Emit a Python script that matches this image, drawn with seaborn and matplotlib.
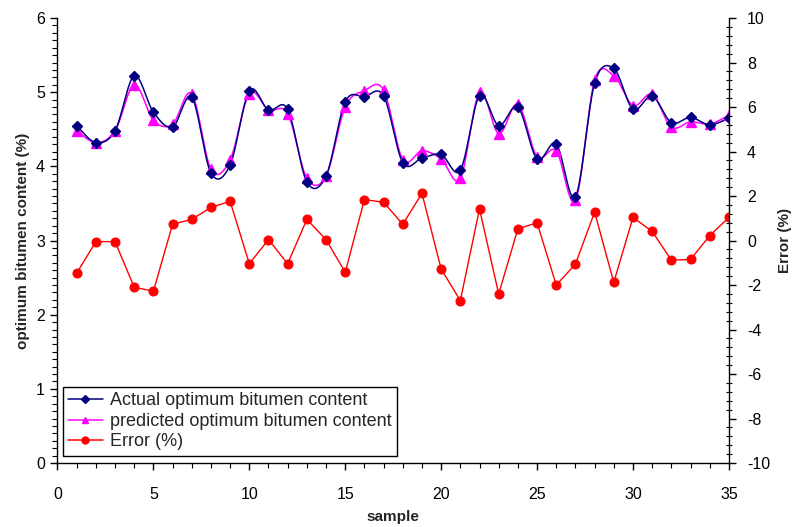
import numpy as np
import pandas as pd
import matplotlib
matplotlib.use("Agg")
import matplotlib.pyplot as plt
from matplotlib.lines import Line2D
from matplotlib.ticker import MultipleLocator
import seaborn as sns

samples = list(range(1, 36))
actual = [4.55, 4.32, 4.48, 5.22, 4.73, 4.53, 4.93, 3.91, 4.02, 5.02, 4.76, 4.77,
          3.79, 3.87, 4.87, 4.94, 4.95, 4.05, 4.11, 4.16, 3.95, 4.95, 4.55, 4.80,
          4.10, 4.30, 3.59, 5.12, 5.32, 4.77, 4.95, 4.59, 4.66, 4.56, 4.65]
predicted = [4.48, 4.32, 4.48, 5.10, 4.62, 4.57, 4.98, 3.96, 4.09, 4.98, 4.76, 4.71,
             3.84, 3.87, 4.80, 5.02, 5.03, 4.09, 4.21, 4.10, 3.84, 5.00, 4.44, 4.84,
             4.13, 4.21, 3.54, 5.16, 5.22, 4.82, 4.97, 4.53, 4.60, 4.57, 4.69]
error = [-1.47, -0.05, -0.05, -2.10, -2.28, 0.73, 0.95, 1.49, 1.76, -1.04, 0.04, -1.04,
         0.95, 0.04, -1.43, 1.84, 1.72, 0.73, 2.12, -1.28, -2.70, 1.42, -2.40, 0.52,
         0.80, -2.00, -1.06, 1.28, -1.88, 1.04, 0.41, -0.88, -0.85, 0.22, 1.04]

labels = ["Actual optimum bitumen content", "predicted optimum bitumen content", "Error (%)"]


def smooth(xs, ys, n=20):
    xs = np.asarray(xs, float)
    ys = np.asarray(ys, float)
    ox, oy = [], []
    m = len(xs)
    for i in range(m - 1):
        p0 = ys[i - 1] if i > 0 else ys[i]
        p1, p2 = ys[i], ys[i + 1]
        p3 = ys[i + 2] if i + 2 < m else ys[i + 1]
        x0 = xs[i - 1] if i > 0 else xs[i]
        x1, x2 = xs[i], xs[i + 1]
        x3 = xs[i + 2] if i + 2 < m else xs[i + 1]
        t = np.linspace(0, 1, n, endpoint=(i == m - 2))
        def cr(a, b, c, d):
            return 0.5 * (2 * b + (-a + c) * t + (2 * a - 5 * b + 4 * c - d) * t ** 2
                          + (-a + 3 * b - 3 * c + d) * t ** 3)
        ox.extend(cr(x0, x1, x2, x3))
        oy.extend(cr(p0, p1, p2, p3))
    return pd.DataFrame({"x": ox, "y": oy})


sns.set_theme(style="white")
plt.rcParams["font.family"] = ["Liberation Sans", "DejaVu Sans"]
plt.rcParams["axes.unicode_minus"] = False

fig = plt.figure(figsize=(7.94, 5.27), dpi=100)
ax = fig.add_axes([0.0724, 0.1214, 0.8456, 0.8444])
ax2 = ax.twinx()

navy = "#000080"
mag = "#FF00FF"
red = "#FF0000"

df = pd.DataFrame({"sample": samples, "actual": actual, "predicted": predicted, "error": error})

sa = smooth(samples, actual)
sp = smooth(samples, predicted)
sns.lineplot(data=sp, x="x", y="y", ax=ax, color=mag, linewidth=1.1, sort=False, estimator=None)
sns.lineplot(data=sa, x="x", y="y", ax=ax, color=navy, linewidth=1.1, sort=False, estimator=None)
ax.plot(df["sample"], df["predicted"], linestyle="none", marker="^", markersize=6.5,
        color=mag, markeredgecolor=mag)
ax.plot(df["sample"], df["actual"], linestyle="none", marker="D", markersize=5,
        color=navy, markeredgecolor=navy)

sns.lineplot(data=df, x="sample", y="error", ax=ax2, color=red, linewidth=1.0,
             marker="o", markersize=6.5, markeredgecolor=red, markerfacecolor=red,
             estimator=None)

ax.set_xlim(0, 35)
ax.set_ylim(0, 6)
ax2.set_ylim(-10, 10)

ax.xaxis.set_major_locator(MultipleLocator(5))
ax.xaxis.set_minor_locator(MultipleLocator(1))
ax.yaxis.set_major_locator(MultipleLocator(1))
ax.yaxis.set_minor_locator(MultipleLocator(0.1))
ax2.yaxis.set_major_locator(MultipleLocator(2))
ax2.yaxis.set_minor_locator(MultipleLocator(0.4))

for a in (ax, ax2):
    a.set_facecolor("none")
    for s in a.spines.values():
        s.set_color("black")
        s.set_linewidth(1.0)
    a.spines["top"].set_visible(False)
    a.grid(False)

ax.spines["right"].set_visible(False)
ax2.spines["left"].set_visible(False)
ax2.spines["bottom"].set_visible(False)

ax.tick_params(axis="both", which="major", direction="out", length=5, width=1,
               color="black", labelsize=11.5, labelcolor="black", pad=4,
               bottom=True, left=True)
ax.tick_params(axis="both", which="minor", direction="out", length=3.5, width=0.8,
               color="black", bottom=True, left=True)
ax.tick_params(axis="x", which="major", pad=12)
ax2.tick_params(axis="y", which="major", direction="out", length=5, width=1,
                color="black", labelsize=11.5, labelcolor="black", right=True, pad=8)
ax2.tick_params(axis="y", which="minor", direction="inout", length=5, width=0.8,
                color="black", right=True)

ax.set_xlabel("sample", fontsize=11, fontweight="bold", labelpad=6)
ax.set_ylabel("optimum bitumen content (%)", fontsize=11, fontweight="bold", labelpad=4)
ax2.set_ylabel("Error (%)", fontsize=11, fontweight="bold", labelpad=6)

handles = [
    Line2D([0], [0], color=navy, marker="D", markersize=4, linewidth=1.1),
    Line2D([0], [0], color=mag, marker="^", markersize=5, linewidth=1.1),
    Line2D([0], [0], color=red, marker="o", markersize=5, linewidth=1.1),
]
leg = ax2.legend(handles, labels, loc="lower left", bbox_to_anchor=(0.008, 0.016),
                 borderaxespad=0, fontsize=13, frameon=True, fancybox=False,
                 edgecolor="black", handlelength=1.9, handletextpad=0.4,
                 labelspacing=0.2, borderpad=0.3)
leg.get_frame().set_linewidth(1.0)
leg.get_frame().set_facecolor("white")
leg.get_frame().set_alpha(1)

fig.savefig("out.png", dpi=100)
